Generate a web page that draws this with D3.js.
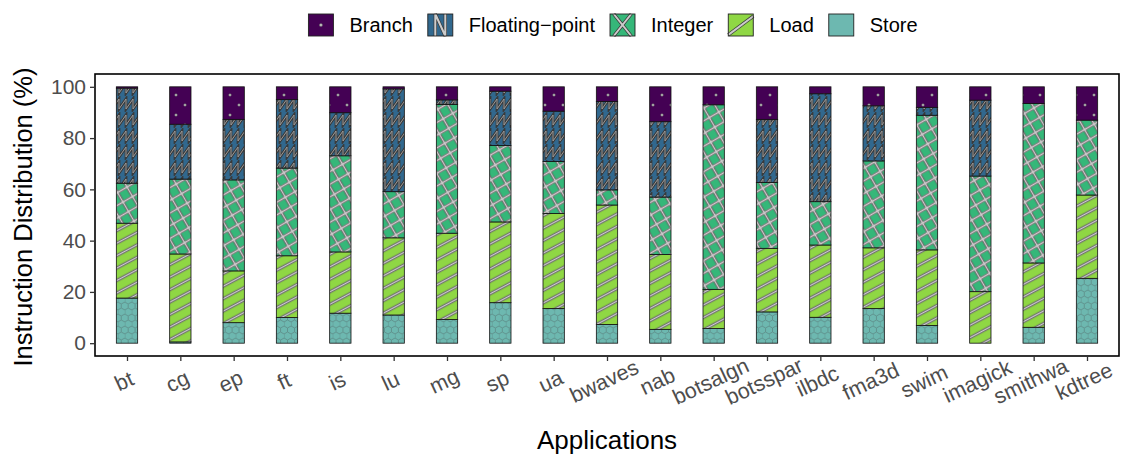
<!DOCTYPE html>
<html>
<head>
<meta charset="utf-8">
<script src="https://cdn.jsdelivr.net/npm/d3@7"></script>
<style>
  html, body { margin: 0; padding: 0; background: #fff; }
  svg { display: block; font-family: "Liberation Sans", Arial, Helvetica, sans-serif; }
</style>
</head>
<body>
<svg id="chart" width="1126" height="455"></svg>
<script>
// Instruction mix per application (percent of dynamic instructions)
const applications = ["bt", "cg", "ep", "ft", "is", "lu", "mg", "sp", "ua", "bwaves", "nab",
  "botsalgn", "botsspar", "ilbdc", "fma3d", "swim", "imagick", "smithwa", "kdtree"];
const storePct   = [17.6, 0.5, 8.0, 10.0, 11.7, 11.0, 9.2, 15.8, 13.5, 7.3, 5.4, 5.7, 12.2, 10.1, 13.5, 6.9, 0.0, 6.2, 25.3];
const loadPct    = [29.2, 34.3, 20.2, 24.1, 23.9, 30.1, 33.7, 31.5, 37.1, 46.6, 29.2, 15.3, 24.8, 28.2, 23.7, 29.5, 20.1, 25.1, 32.5];
const integerPct = [15.6, 29.2, 35.5, 34.2, 37.5, 18.0, 50.2, 29.8, 20.3, 5.9, 22.4, 72.0, 25.7, 16.9, 33.9, 52.5, 45.1, 62.2, 29.2];
const floatPct   = [37.1, 21.4, 23.6, 26.7, 16.8, 40.1, 1.8, 21.2, 19.6, 34.5, 29.4, 0.0, 24.6, 42.1, 21.5, 3.1, 29.6, 0.0, 0.0];
const branchPct  = [0.5, 14.6, 12.7, 5.0, 10.1, 0.8, 5.1, 1.7, 9.5, 5.7, 13.6, 7.0, 12.7, 2.7, 7.4, 8.0, 5.2, 6.5, 13.0];
const yTicks = [0, 20, 40, 60, 80, 100];

const legendKeys = ["Branch", "Floating\u2212point", "Integer", "Load", "Store"];
const stackKeys = ["Store", "Load", "Integer", "Floating\u2212point", "Branch"];
const fills = {
  "Branch": "#440154",
  "Floating\u2212point": "#31688E",
  "Integer": "#35B779",
  "Load": "#8FD744",
  "Store": "#6DB8B0"
};
const patternIds = {
  "Branch": "dots",
  "Floating\u2212point": "zigzag",
  "Integer": "cross",
  "Load": "stripe",
  "Store": "hex"
};

const rows = applications.map((app, i) => ({
  app,
  "Store": storePct[i],
  "Load": loadPct[i],
  "Integer": integerPct[i],
  "Floating\u2212point": floatPct[i],
  "Branch": branchPct[i]
}));

const svg = d3.select("#chart");
const panel = { left: 95, right: 1119, top: 74, bottom: 356 };

const x = d3.scalePoint().domain(applications).range([panel.left, panel.right]).padding(0.6);
const y = d3.scaleLinear().domain([-5, 105]).range([panel.bottom, panel.top]);
const barW = x.step() * 0.4;

// ---- fill patterns ----
const defs = svg.append("defs");
const dark = "#3A3A3A", light = "#CCCCCC";

// dots on purple
const pd = defs.append("pattern").attr("id", "dots")
  .attr("patternUnits", "userSpaceOnUse").attr("width", 18).attr("height", 20);
pd.append("rect").attr("width", 18).attr("height", 20).attr("fill", fills["Branch"]);
[[5, 5], [14, 15]].forEach(([cx, cy]) =>
  pd.append("circle").attr("cx", cx).attr("cy", cy).attr("r", 1.3)
    .attr("fill", "#BBBBBB").attr("stroke", "#555").attr("stroke-width", 0.4));

// sawtooth on blue
const pz = defs.append("pattern").attr("id", "zigzag")
  .attr("patternUnits", "userSpaceOnUse").attr("width", 7).attr("height", 16);
pz.append("rect").attr("width", 7).attr("height", 16).attr("fill", fills["Floating\u2212point"]);
const zp = "M-7,13 L0,3 L0,13 L7,3 L7,13 L14,3";
pz.append("path").attr("d", zp).attr("fill", "none").attr("stroke", dark).attr("stroke-width", 2.8);
pz.append("path").attr("d", zp).attr("fill", "none").attr("stroke", "#999").attr("stroke-width", 1.0);

// crosshatch on green
const pc = defs.append("pattern").attr("id", "cross")
  .attr("patternUnits", "userSpaceOnUse").attr("width", 11).attr("height", 11)
  .attr("patternTransform", "rotate(-30)");
pc.append("rect").attr("x", -1).attr("y", -1).attr("width", 13).attr("height", 13).attr("fill", fills["Integer"]);
const cp = "M-1,5.5 H12 M5.5,-1 V12";
pc.append("path").attr("d", cp).attr("stroke", dark).attr("stroke-width", 3.2);
pc.append("path").attr("d", cp).attr("stroke", light).attr("stroke-width", 1.8);

// single stripes on lime
const ps = defs.append("pattern").attr("id", "stripe")
  .attr("patternUnits", "userSpaceOnUse").attr("width", 11).attr("height", 11)
  .attr("patternTransform", "rotate(-28)");
ps.append("rect").attr("x", -1).attr("y", -1).attr("width", 13).attr("height", 13).attr("fill", fills["Load"]);
const sp = "M-1,5.5 H12";
ps.append("path").attr("d", sp).attr("stroke", dark).attr("stroke-width", 3.2);
ps.append("path").attr("d", sp).attr("stroke", light).attr("stroke-width", 1.8);

// hexagon lattice on teal
const hr = 4, hw = Math.sqrt(3) * hr;
const ph = defs.append("pattern").attr("id", "hex")
  .attr("patternUnits", "userSpaceOnUse").attr("width", hw).attr("height", 3 * hr);
ph.append("rect").attr("width", hw).attr("height", 3 * hr).attr("fill", fills["Store"]);
const hp = `M0,${-0.5 * hr} L0,${0.5 * hr} L${hw / 2},${hr} L${hw / 2},${2 * hr} L0,${2.5 * hr} L0,${3.5 * hr}` +
           ` M${hw / 2},${hr} L${hw},${0.5 * hr} M${hw / 2},${2 * hr} L${hw},${2.5 * hr}`;
ph.append("path").attr("d", hp).attr("fill", "none").attr("stroke", "#5E8F8B").attr("stroke-width", 0.9);

// ---- bars ----
const series = d3.stack().keys(stackKeys)(rows);
svg.append("g").selectAll("g").data(series).join("g")
  .attr("fill", d => `url(#${patternIds[d.key]})`)
  .selectAll("rect").data(d => d).join("rect")
  .attr("x", d => x(d.data.app) - barW / 2)
  .attr("y", d => y(d[1]))
  .attr("width", barW)
  .attr("height", d => y(d[0]) - y(d[1]))
  .attr("stroke", "#111")
  .attr("stroke-width", 0.8);

// ---- panel border ----
svg.append("rect")
  .attr("x", panel.left).attr("y", panel.top)
  .attr("width", panel.right - panel.left).attr("height", panel.bottom - panel.top)
  .attr("fill", "none").attr("stroke", "#000").attr("stroke-width", 1.6);

// ---- y axis ----
const yAxis = svg.append("g").attr("transform", `translate(${panel.left},0)`)
  .call(d3.axisLeft(y).tickValues(yTicks).tickSize(5).tickPadding(4).tickFormat(d3.format("d")));
yAxis.select(".domain").remove();
yAxis.selectAll(".tick line").attr("stroke", "#333").attr("stroke-width", 1.3);
yAxis.selectAll(".tick text").attr("fill", "#4D4D4D").style("font-size", "21px")
  .style("font-family", "'Liberation Sans', Arial, sans-serif");

// ---- x axis ----
const xAxis = svg.append("g").attr("transform", `translate(0,${panel.bottom})`)
  .call(d3.axisBottom(x).tickSize(5).tickFormat(""));
xAxis.select(".domain").remove();
xAxis.selectAll(".tick line").attr("stroke", "#333").attr("stroke-width", 1.3);

svg.append("g").selectAll("text").data(applications).join("text")
  .attr("transform", d => `translate(${x(d) - 3},${panel.bottom + 25}) rotate(-25)`)
  .attr("text-anchor", "middle")
  .attr("dy", "0.35em")
  .attr("fill", "#4D4D4D")
  .style("font-size", "21.5px")
  .text(d => d);

// ---- axis titles ----
svg.append("text")
  .attr("x", (panel.left + panel.right) / 2).attr("y", 449)
  .attr("text-anchor", "middle").style("font-size", "26px").attr("fill", "#000")
  .text("Applications");
svg.append("text")
  .attr("transform", `translate(32,${(panel.top + panel.bottom) / 2 + 2}) rotate(-90)`)
  .attr("text-anchor", "middle").style("font-size", "25.5px").attr("fill", "#000")
  .text("Instruction Distribution (%)");

// ---- legend ----
const keyW = 25, keyH = 22, keyGap = 16, itemGap = 15;

// miniature glyph of each fill pattern for the legend keys
function drawKey(g, k) {
  g.append("rect").attr("width", keyW).attr("height", keyH).attr("fill", fills[k]);
  const glyph = {
    "Branch": null,
    "Floating\u2212point": `M${keyW * 0.3},${keyH} V0 L${keyW * 0.7},${keyH} V0`,
    "Integer": `M${keyW * 0.15},0 L${keyW * 0.85},${keyH} M${keyW * 0.85},0 L${keyW * 0.15},${keyH}`,
    "Load": `M0,${keyH * 0.95} L${keyW},${keyH * 0.1}`,
    "Store": null
  }[k];
  if (glyph) {
    g.append("path").attr("d", glyph).attr("fill", "none").attr("stroke", dark).attr("stroke-width", 3.4);
    g.append("path").attr("d", glyph).attr("fill", "none").attr("stroke", light).attr("stroke-width", 2);
  }
  if (k === "Branch") {
    g.append("circle").attr("cx", keyW / 2).attr("cy", keyH / 2).attr("r", 1.6)
      .attr("fill", "#BBBBBB").attr("stroke", "#555").attr("stroke-width", 0.4);
  }
  g.append("rect").attr("width", keyW).attr("height", keyH)
    .attr("fill", "none").attr("stroke", "#222").attr("stroke-width", 0.9);
}

const legend = svg.append("g");
let cursor = 0;
legendKeys.forEach(k => {
  const g = legend.append("g");
  drawKey(g, k);
  const t = g.append("text").attr("x", keyW + keyGap).attr("y", keyH / 2).attr("dy", "0.36em")
    .style("font-size", "20px").attr("fill", "#000").text(k);
  const w = keyW + keyGap + t.node().getComputedTextLength();
  g.attr("transform", `translate(${cursor},14)`);
  cursor += w + itemGap;
});
const legendWidth = cursor - itemGap;
legend.attr("transform", `translate(${613 - legendWidth / 2},0)`);
</script>
</body>
</html>
